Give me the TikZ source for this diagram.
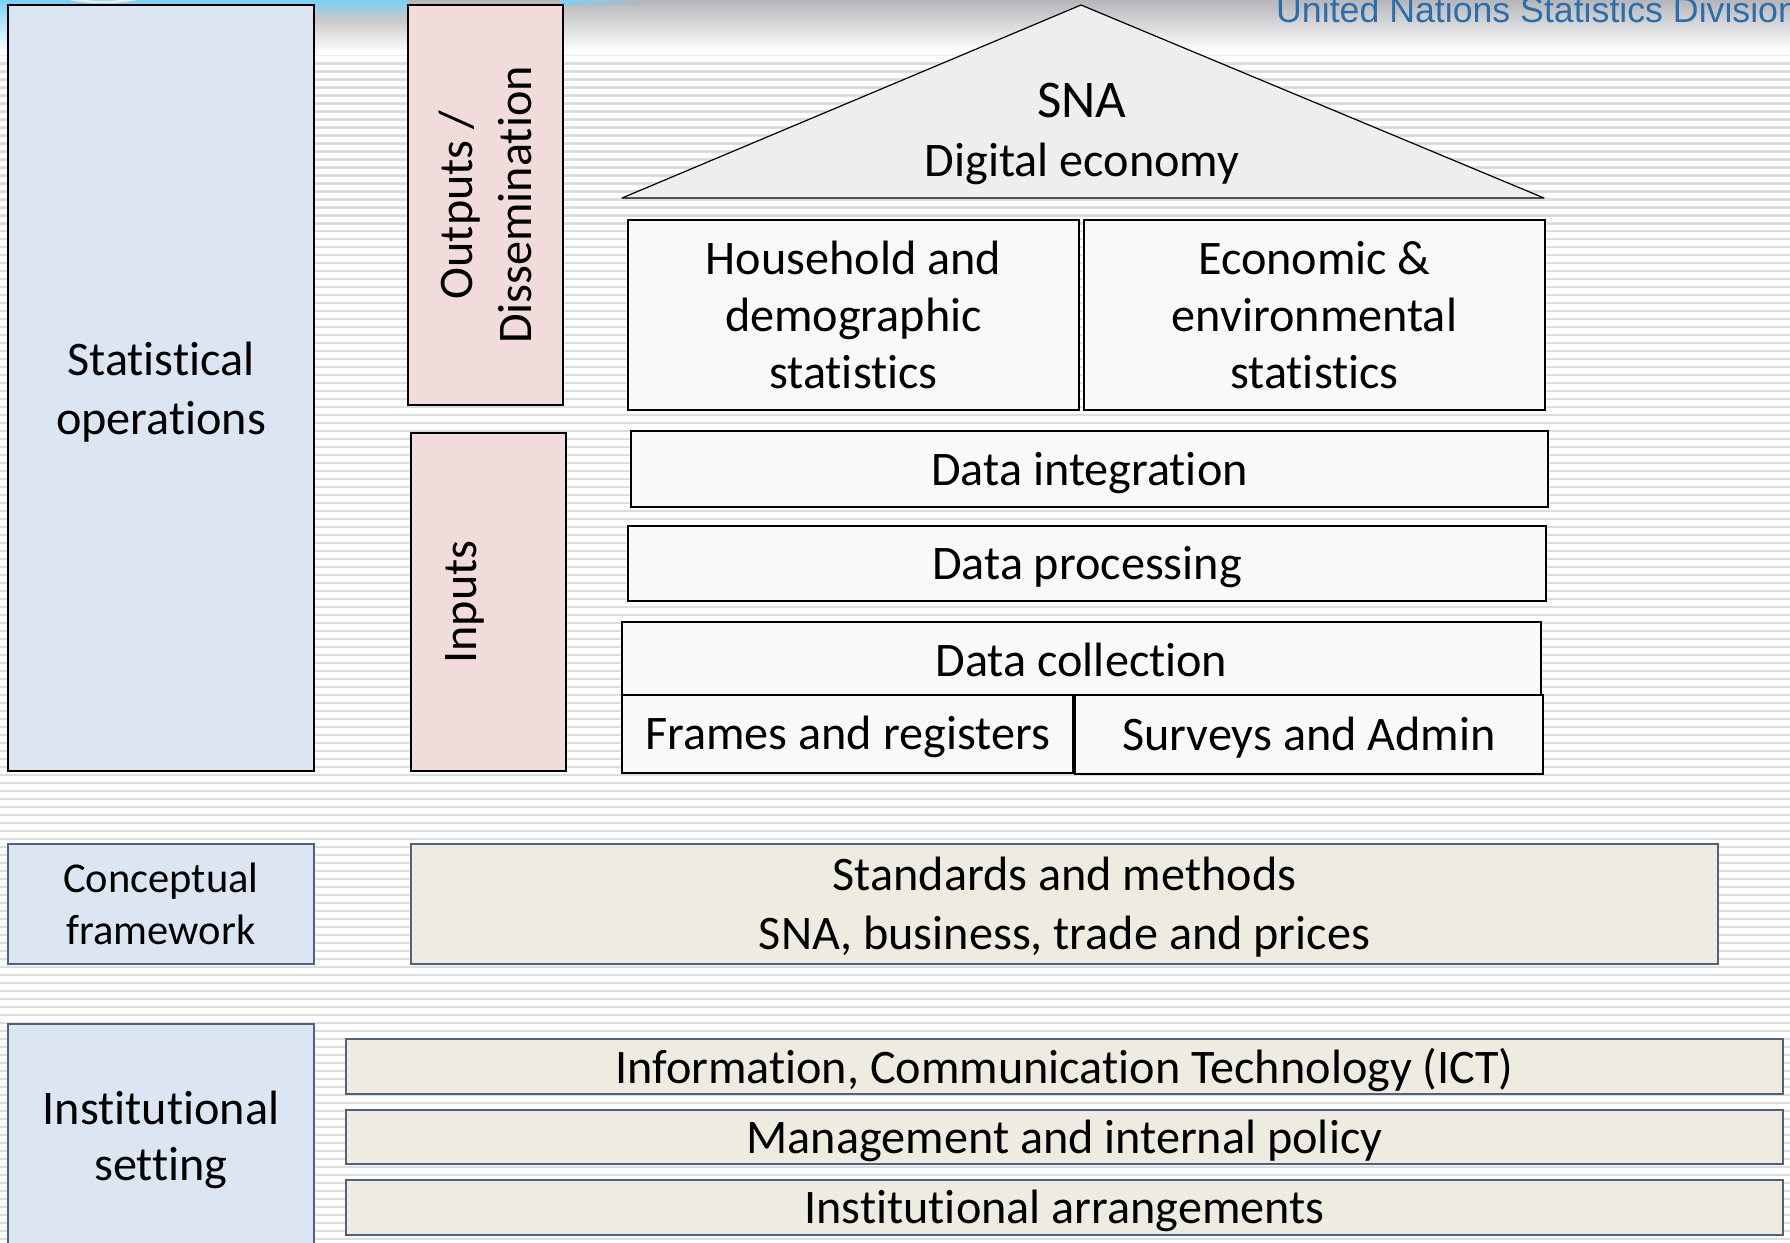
\documentclass[tikz,border=0pt]{standalone}
\usepackage{fontspec}
\setmainfont[Ligatures=NoCommon]{Carlito}
\setsansfont{Liberation Sans}
\definecolor{stripe}{HTML}{DDDDDD}
\definecolor{bluefill}{HTML}{DCE6F2}
\definecolor{pinkfill}{HTML}{F2DCDB}
\definecolor{beigefill}{HTML}{EEECE1}
\definecolor{whitefill}{HTML}{F9F9F9}
\definecolor{roofgrey}{HTML}{EEEEEE}
\definecolor{slateline}{HTML}{4F6180}
\definecolor{unblue}{HTML}{2B6EAC}
\definecolor{skyblue}{HTML}{7CD0F6}
\definecolor{bannergrey}{HTML}{B6B6BA}
\definecolor{hazegrey}{HTML}{CCC8C8}
\newcommand{\fs}[1]{\pgfmathsetmacro{\leadv}{#1*1.22}\fontsize{#1}{\leadv}\selectfont}
\tikzset{
  plate/.style={inner sep=0pt,outer sep=0pt,align=center,text=black,line width=1.2pt,anchor=center,font=\fs{48.2}},
  bluedark/.style={plate,draw=black,fill=bluefill},
  blueslate/.style={plate,draw=slateline,fill=bluefill},
  pinkbox/.style={plate,draw=black,fill=pinkfill},
  whitebox/.style={plate,draw=black,fill=whitefill},
  beigebox/.style={plate,draw=slateline,fill=beigefill},
  caption/.style={inner sep=0pt,outer sep=0pt,align=center,text=black,anchor=center,font=\fs{48.2}}
}
% name, x1, y1, x2, y2, box style, caption style, caption
\newcommand{\plate}[8]{%
  \pgfmathsetmacro{\pw}{#4-#2}\pgfmathsetmacro{\ph}{#5-#3}%
  \node[#6,minimum width=\pw pt,minimum height=\ph pt] (#1) at ({(#2+#4)/2},{(#3+#5)/2}) {};
  \node[caption,#7] (#1text) at (#1.center) {#8};}
\newcommand{\vplate}[7]{%
  \pgfmathsetmacro{\pw}{#4-#2}\pgfmathsetmacro{\ph}{#5-#3}%
  \node[#6,rotate=90,minimum width=\ph pt,minimum height=\pw pt] (#1) at ({(#2+#4)/2},{(#3+#5)/2}) {#7};}
\begin{document}
\begin{tikzpicture}[x=1pt,y=-1pt]
\useasboundingbox (0,0) rectangle (1790,1242);
\fill[white] (0,0) rectangle (1790,1242);
% banner
\shade[top color=bannergrey,bottom color=white] (315,0) rectangle (1790,52);
\shade[top color=skyblue,bottom color=white] (0,0) rectangle (315,52);
\shade[top color=skyblue,bottom color=hazegrey] (315,0) rectangle (408,20);
\shade[top color=hazegrey,bottom color=white] (315,20) rectangle (408,52);
\shade[left color=skyblue,right color=bannergrey] (560,0) rectangle (640,4);
\begin{scope}
\clip (0,0) rectangle (315,5);
\draw[white!85!gray,line width=2.5pt] (103,-18) ellipse [x radius=62,y radius=20];
\end{scope}
% stripes
\foreach \n in {0,...,148}{
  \fill[stripe] (0,{62.3+7.995*\n}) rectangle (1790,{64.6+7.995*\n});
}
\fill[stripe!60] (0,54.5) rectangle (1790,56);
\node[anchor=base west,inner sep=0pt,text=unblue,font=\fontsize{35.7}{40}\selectfont\sffamily] (undiv) at (1276,23) {United Nations Statistics Division};
\plate{stats}{8}{5}{314}{771}{bluedark}{yshift=-4pt}{Statistical\\operations}
\vplate{outputs}{408}{5}{563}{405}{pinkbox}{Outputs /\\Dissemination}
\vplate{inputs}{411}{433}{566}{771}{pinkbox}{Inputs\\[-4.5pt]\mbox{}}
\coordinate (apex) at (1081,5);
\coordinate (roofl) at (622,198);
\coordinate (roofr) at (1544,198);
\draw[fill=roofgrey,line width=1.2pt,line join=round] (apex) -- (roofr) -- (roofl) -- cycle;
\node[caption] (sna) at (1082,134) {\fs{53}SNA\\Digital economy};
\plate{household}{628}{220}{1079}{410}{whitebox}{font=\fontsize{48.2}{57}\selectfont}{Household and\\demographic\\statistics}
\plate{economic}{1084}{220}{1545}{410}{whitebox}{font=\fontsize{48.2}{57}\selectfont}{Economic \&\\environmental\\statistics}
\plate{integration}{631}{431}{1548}{507}{whitebox}{yshift=-4pt}{Data integration}
\plate{processing}{628}{526}{1546}{601}{whitebox}{yshift=-4pt}{Data processing}
\plate{collection}{622}{622}{1541}{697}{whitebox}{}{Data collection}
\plate{frames}{622}{695}{1073}{773}{whitebox}{yshift=-3pt}{Frames and registers}
\plate{surveys}{1075}{695}{1543}{774}{whitebox}{yshift=-3pt}{Surveys and Admin}
\plate{conceptual}{8}{844}{314}{964}{blueslate}{font=\fs{42.5}}{Conceptual\\framework}
\plate{standards}{411}{844}{1718}{964}{beigebox}{yshift=-3pt}{Standards and methods\\SNA, business, trade and prices}
\node[blueslate,minimum width=306pt,minimum height=238pt] (institutional) at (161,1143) {};
\node[caption,font=\fontsize{48.2}{56}\selectfont] (insttext) at (161,1140) {Institutional\\setting};
\plate{ict}{346}{1039}{1783}{1094}{beigebox}{yshift=-3pt}{Information, Communication Technology (ICT)}
\plate{mgmt}{346}{1110}{1783}{1164}{beigebox}{yshift=-4pt}{Management and internal policy}
\plate{arrangements}{346}{1180}{1783}{1235}{beigebox}{yshift=-3pt}{Institutional arrangements}
\end{tikzpicture}
\end{document}
